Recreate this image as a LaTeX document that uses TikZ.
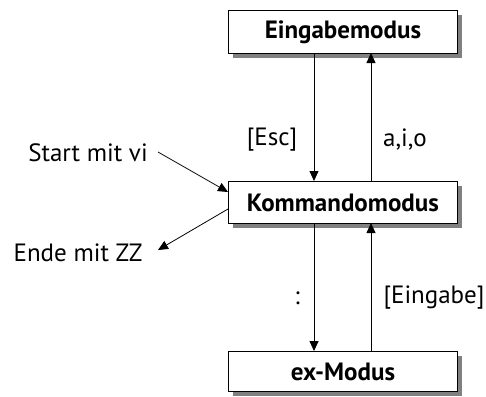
\documentclass[tikz,border=0pt]{standalone}
\usepackage{fontspec}
\setmainfont{PT Sans}
\usetikzlibrary{arrows.meta,shadows}
\begin{document}
\begin{tikzpicture}[x=1pt,y=-1pt,
  modebox/.style={draw=black,line width=0.9pt,fill=white,minimum width=229pt,anchor=north west,
    font=\fontsize{25}{29}\selectfont\bfseries,inner sep=0pt,
    drop shadow={shadow xshift=5pt,shadow yshift=-5pt,fill=black!50,opacity=1}},
  lbl/.style={font=\fontsize{25}{29}\selectfont,inner sep=0pt},
  arr/.style={line width=0.8pt,-{Triangle[length=10pt,width=9pt]}}]
\useasboundingbox (0,0) rectangle (486,396);
\node[modebox,minimum height=43pt] (E) at (228,10) {Eingabemodus};
\node[modebox,minimum height=42pt] (K) at (228,181) {Kommandomodus};
\node[modebox,minimum height=40pt] (X) at (228,351) {ex-Modus};
\coordinate (EL) at (314,53);
\coordinate (ER) at (371,53);
\coordinate (KLt) at (314,181);
\coordinate (KRt) at (371,181);
\coordinate (KLb) at (314,223);
\coordinate (KRb) at (371,223);
\coordinate (XL) at (314,351);
\coordinate (XR) at (371,351);
\draw[arr] (EL) -- (KLt);
\draw[arr] (KRt) -- (ER);
\draw[arr] (KLb) -- (XL);
\draw[arr] (XR) -- (KRb);
\node[lbl] (esc) at (272,140) {[Esc]};
\node[lbl] (aio) at (405,140) {a,i,o};
\node[lbl] (colon) at (297,298) {:};
\node[lbl] (eing) at (434,298) {[Eingabe]};
\node[lbl] (start) at (88,153) {Start mit vi};
\node[lbl] (ende) at (78,253) {Ende mit ZZ};
\coordinate (s1) at (158,152);
\coordinate (s2) at (228,192);
\coordinate (e1) at (228,209);
\coordinate (e2) at (158,250);
\draw[arr] (s1) -- (s2);
\draw[arr] (e1) -- (e2);
\end{tikzpicture}
\end{document}
